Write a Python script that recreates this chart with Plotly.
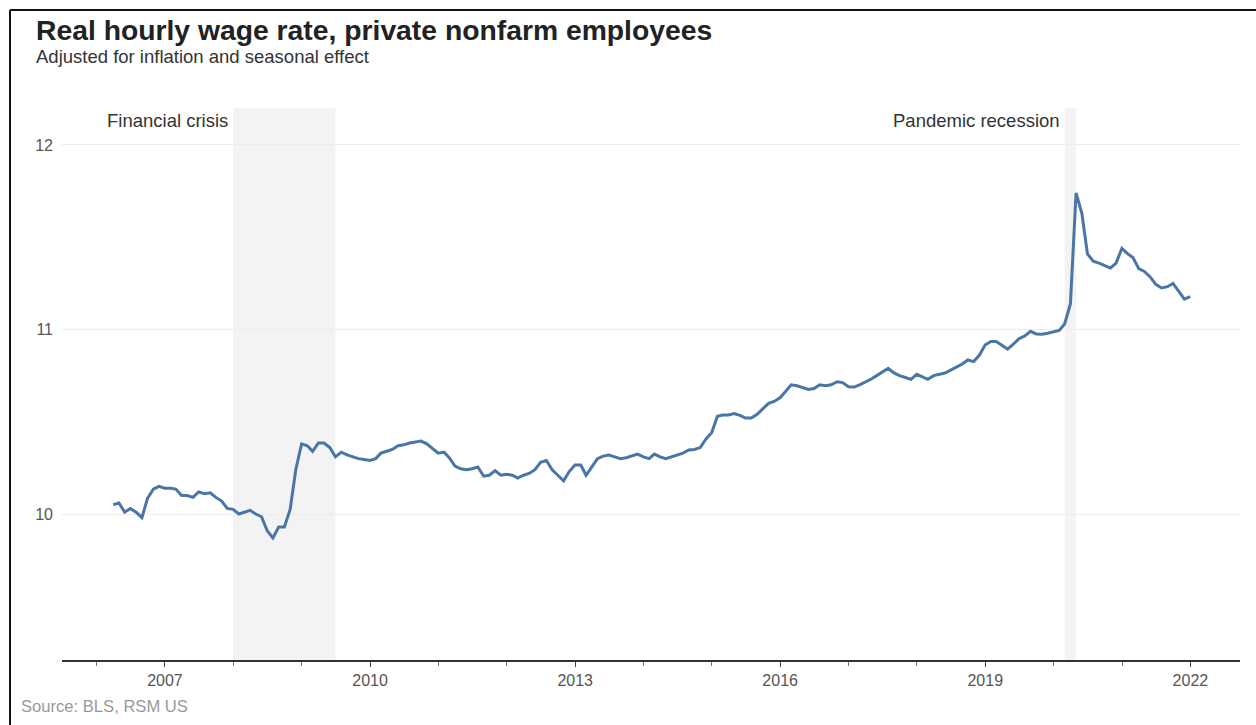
import pandas as pd
import plotly.graph_objects as go

# ---- data ----
start_month = "2006-03-31"
wage = [
    10.05, 10.06, 10.01, 10.03, 10.01, 9.98, 10.085, 10.135, 10.15, 10.14,
    10.14, 10.135, 10.10, 10.10, 10.09, 10.12, 10.11, 10.115, 10.09, 10.07,
    10.03, 10.025, 10.0, 10.01, 10.02, 10.0, 9.985, 9.91, 9.87, 9.93,
    9.93, 10.025, 10.24, 10.38, 10.37, 10.34, 10.385, 10.385, 10.36, 10.31,
    10.335, 10.32, 10.31, 10.30, 10.295, 10.29, 10.30, 10.33, 10.34, 10.35,
    10.37, 10.375, 10.385, 10.39, 10.395, 10.38, 10.355, 10.33, 10.335, 10.305,
    10.26, 10.245, 10.24, 10.245, 10.255, 10.205, 10.21, 10.235, 10.21, 10.215,
    10.21, 10.195, 10.21, 10.22, 10.24, 10.28, 10.29, 10.24, 10.21, 10.18,
    10.23, 10.265, 10.265, 10.21, 10.255, 10.30, 10.314, 10.32, 10.31, 10.30,
    10.305, 10.315, 10.325, 10.31, 10.30, 10.325, 10.31, 10.30, 10.31, 10.316,
    10.33, 10.347, 10.35, 10.36, 10.405, 10.44, 10.53, 10.537, 10.537, 10.545,
    10.535, 10.52, 10.52, 10.54, 10.57, 10.60, 10.61, 10.63, 10.665, 10.70,
    10.695, 10.686, 10.675, 10.68, 10.70, 10.695, 10.70, 10.717, 10.712, 10.69,
    10.688, 10.70, 10.715, 10.73, 10.75, 10.77, 10.79, 10.765, 10.75, 10.74,
    10.73, 10.757, 10.745, 10.73, 10.75, 10.758, 10.764, 10.78, 10.795, 10.813,
    10.835, 10.826, 10.86, 10.916, 10.935, 10.935, 10.915, 10.894, 10.92, 10.95,
    10.965, 10.99, 10.976, 10.974, 10.98, 10.986, 10.995, 11.03, 11.14, 11.74,
    11.63, 11.41, 11.37, 11.36, 11.345, 11.333, 11.36, 11.44, 11.41, 11.39,
    11.33, 11.315, 11.285, 11.245, 11.225, 11.232, 11.25, 11.21, 11.165, 11.178,
]
dates = pd.date_range(start_month, periods=len(wage), freq="ME")

recessions = [("2007-12-31", "2009-06-30"), ("2020-02-29", "2020-04-30")]
recession_labels = ["Financial crisis", "Pandemic recession"]
y_ticks = [10, 11, 12]

title = "Real hourly wage rate, private nonfarm employees"
subtitle = "Adjusted for inflation and seasonal effect"
source = "Source: BLS, RSM US"

# ---- figure ----
W, H = 1256, 725
L, R, T, B = 62, 16, 108, 65
pw, ph = W - L - R, H - T - B

def px(xp):
    return (xp - L) / pw

def py(yp):
    return (H - B - yp) / ph

FONT = "Liberation Sans, Arial, sans-serif"

fig = go.Figure()
fig.add_trace(go.Scatter(
    x=dates, y=wage, mode="lines",
    line=dict(color="#4a76a6", width=3),
    hoverinfo="x+y",
))

for (x0, x1), lab in zip(recessions, recession_labels):
    fig.add_vrect(x0=x0, x1=x1, fillcolor="#f3f3f3", line_width=0, layer="below")
    fig.add_annotation(x=x0, xref="x", y=py(120), yref="paper", text=lab,
                       showarrow=False, xanchor="right", yanchor="middle", xshift=-3,
                       font=dict(family=FONT, size=18.5, color="#333"))

fig.add_annotation(x=px(34), y=py(30), xref="paper", yref="paper", text="<b>" + title + "</b>",
                   showarrow=False, xanchor="left", yanchor="middle",
                   font=dict(family=FONT, size=28.3, color="#222"))
fig.add_annotation(x=px(34), y=py(56), xref="paper", yref="paper", text=subtitle,
                   showarrow=False, xanchor="left", yanchor="middle",
                   font=dict(family=FONT, size=18.5, color="#333"))
fig.add_annotation(x=px(19), y=py(706), xref="paper", yref="paper", text=source,
                   showarrow=False, xanchor="left", yanchor="middle",
                   font=dict(family=FONT, size=16.6, color="#999"))

# frame lines
fig.add_shape(type="line", xref="paper", yref="paper", x0=px(10), x1=px(10), y0=py(10), y1=py(725),
              line=dict(color="#111", width=2))
fig.add_shape(type="line", xref="paper", yref="paper", x0=px(10), x1=px(1256), y0=py(10), y1=py(10),
              line=dict(color="#111", width=2))

fig.update_layout(
    width=W, height=H,
    margin=dict(l=L, r=R, t=T, b=B),
    paper_bgcolor="white", plot_bgcolor="white",
    showlegend=False,
    font=dict(family=FONT, size=16, color="#555"),
    xaxis=dict(
        type="date",
        range=["2005-06-30", "2022-09-23"],
        tick0="2007-01-01", dtick="M36", tickformat="%Y",
        ticks="outside", ticklen=5, tickcolor="#444",
        showline=True, linecolor="#333", linewidth=1.5,
        showgrid=False, zeroline=False,
        tickfont=dict(size=16, color="#555"),
        minor=dict(tick0="2007-01-01", dtick="M12", ticks="outside", ticklen=4, tickcolor="#777"),
    ),
    yaxis=dict(
        range=[9.2087, 12.2005],
        tickvals=y_ticks,
        showgrid=True, gridcolor="#ececec", gridwidth=1,
        zeroline=False, showline=False, ticks="",
        ticklabelstandoff=8,
        tickfont=dict(size=16, color="#555"),
    ),
)

fig.write_html("out.html")
